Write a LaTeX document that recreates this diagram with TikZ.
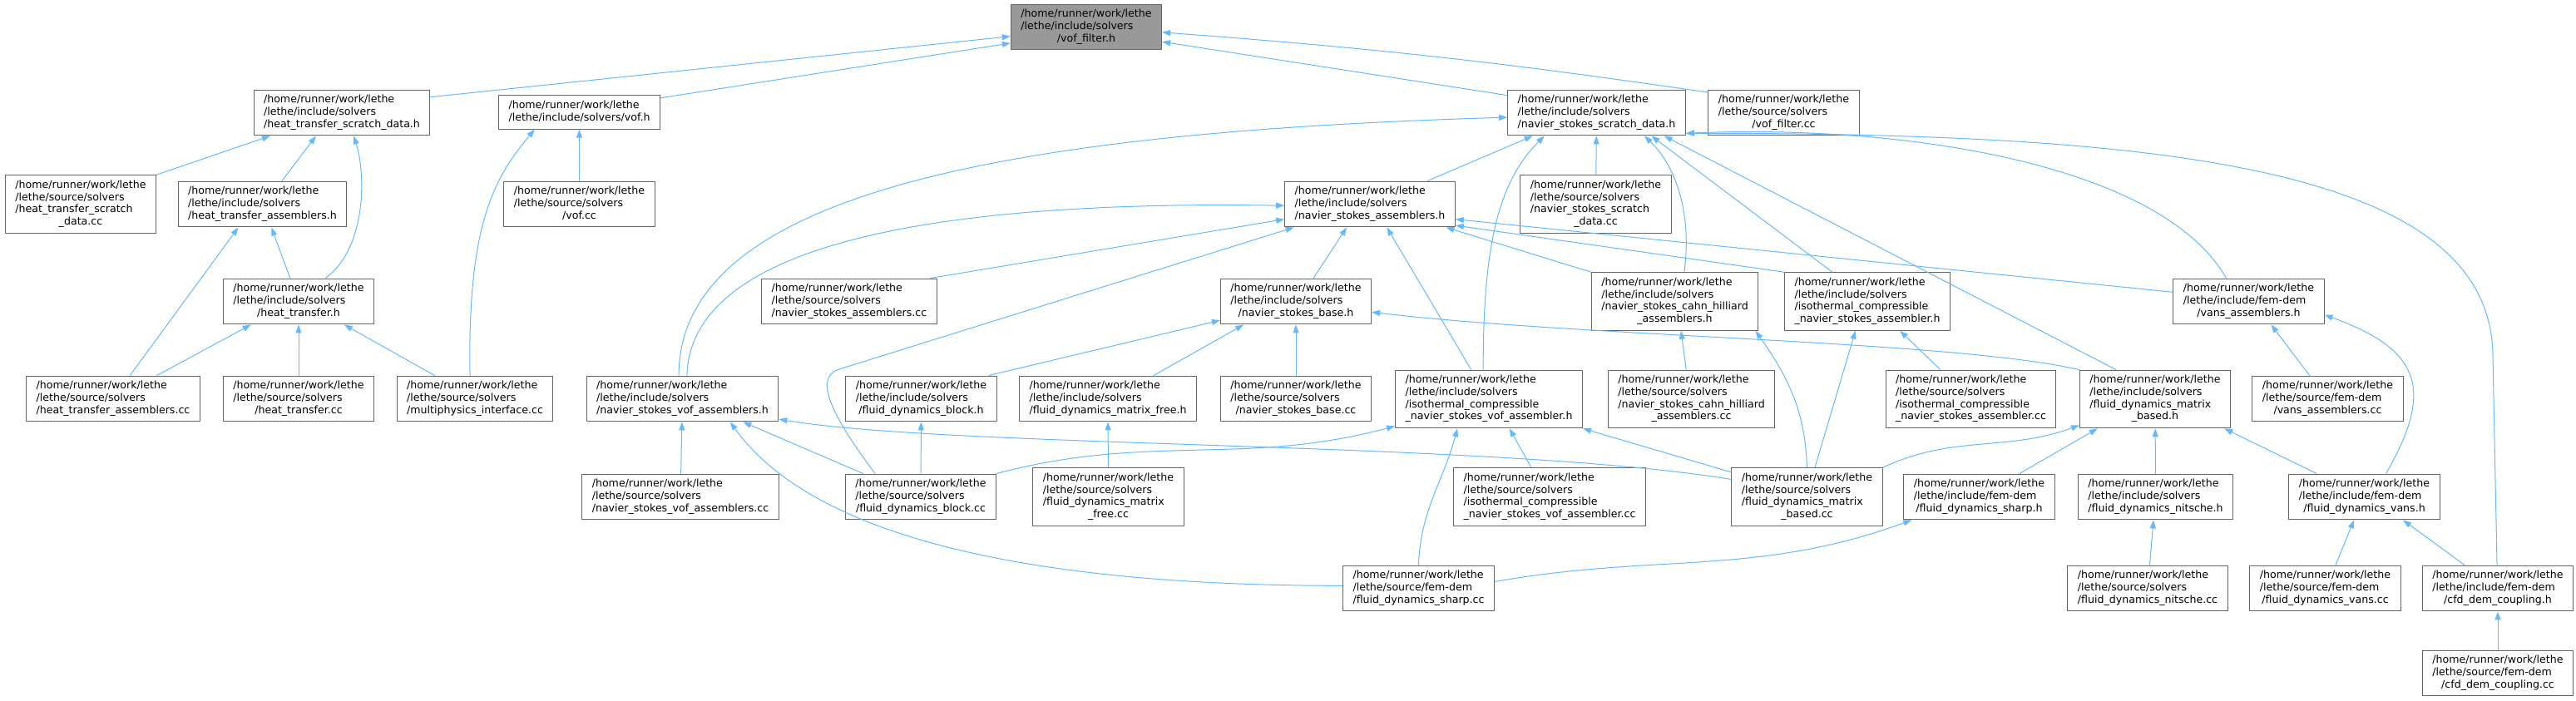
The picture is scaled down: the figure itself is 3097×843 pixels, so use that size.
\documentclass[tikz,border=0pt]{standalone}
\usepackage{fontspec}
\setmainfont{DejaVu Sans}
\usetikzlibrary{arrows.meta}
\definecolor{depblue}{HTML}{63B8FF}
\definecolor{framegray}{HTML}{666666}
\definecolor{rootgray}{HTML}{999999}
% file label: upper lines flush left, last line centred
\newcommand{\fpath}[2]{\begin{tabular}{@{}l@{}}#1\\\multicolumn{1}{@{}c@{}}{#2}\end{tabular}}
\newcommand{\lethehome}{/home/runner/work/lethe}
\begin{document}
\begin{tikzpicture}[x=1pt,y=1pt,
  every node/.style={font=\fontsize{12.6}{14.7}\selectfont},
  file/.style={draw=framegray,line width=1pt,fill=white,inner xsep=12pt,inner ysep=5.4pt},
  root/.style={file,fill=rootgray},
  dep/.style={draw=depblue,line width=1pt,-{Triangle[length=10pt,width=7pt]}}]
\useasboundingbox (0,0) rectangle (3097,-843);
% root
\node[root] (filt) at (1306,-32.5) {\fpath{\lethehome\\/lethe/include/solvers}{/vof\_filter.h}};
% row 1
\node[file] (htsd) at (411,-135.5) {\fpath{\lethehome\\/lethe/include/solvers}{/heat\_transfer\_scratch\_data.h}};
\node[file] (vofh) at (696.5,-135) {\fpath{\lethehome}{/lethe/include/solvers/vof.h}};
\node[file] (nssd) at (1919.5,-135.5) {\fpath{\lethehome\\/lethe/include/solvers}{/navier\_stokes\_scratch\_data.h}};
\node[file] (filtcc) at (2144.5,-135.5) {\fpath{\lethehome\\/lethe/source/solvers}{/vof\_filter.cc}};
% row 2
\node[file] (htsdcc) at (97,-245.5) {\fpath{\lethehome\\/lethe/source/solvers\\/heat\_transfer\_scratch}{\_data.cc}};
\node[file] (htah) at (315.5,-245.5) {\fpath{\lethehome\\/lethe/include/solvers}{/heat\_transfer\_assemblers.h}};
\node[file] (vofcc) at (696.5,-245.5) {\fpath{\lethehome\\/lethe/source/solvers}{/vof.cc}};
\node[file] (nsah) at (1647,-245.5) {\fpath{\lethehome\\/lethe/include/solvers}{/navier\_stokes\_assemblers.h}};
\node[file] (nssdcc) at (1918.5,-245.5) {\fpath{\lethehome\\/lethe/source/solvers\\/navier\_stokes\_scratch}{\_data.cc}};
% row 3
\node[file] (hth) at (359,-362.5) {\fpath{\lethehome\\/lethe/include/solvers}{/heat\_transfer.h}};
\node[file] (nsacc) at (1021,-362.5) {\fpath{\lethehome\\/lethe/source/solvers}{/navier\_stokes\_assemblers.cc}};
\node[file] (nsbh) at (1558,-362.5) {\fpath{\lethehome\\/lethe/include/solvers}{/navier\_stokes\_base.h}};
\node[file] (chah) at (2013.5,-362.5) {\fpath{\lethehome\\/lethe/include/solvers\\/navier\_stokes\_cahn\_hilliard}{\_assemblers.h}};
\node[file] (icah) at (2245,-362.5) {\fpath{\lethehome\\/lethe/include/solvers\\/isothermal\_compressible}{\_navier\_stokes\_assembler.h}};
\node[file] (vah) at (2703.5,-362.5) {\fpath{\lethehome\\/lethe/include/fem-dem}{/vans\_assemblers.h}};
% row 4
\node[file] (htacc) at (136,-479.5) {\fpath{\lethehome\\/lethe/source/solvers}{/heat\_transfer\_assemblers.cc}};
\node[file] (htcc) at (359,-479.5) {\fpath{\lethehome\\/lethe/source/solvers}{/heat\_transfer.cc}};
\node[file] (mpicc) at (571,-479.5) {\fpath{\lethehome\\/lethe/source/solvers}{/multiphysics\_interface.cc}};
\node[file] (nsvah) at (820.5,-479.5) {\fpath{\lethehome\\/lethe/include/solvers}{/navier\_stokes\_vof\_assemblers.h}};
\node[file] (fdbh) at (1107.5,-479.5) {\fpath{\lethehome\\/lethe/include/solvers}{/fluid\_dynamics\_block.h}};
\node[file] (fdmfh) at (1332,-479.5) {\fpath{\lethehome\\/lethe/include/solvers}{/fluid\_dynamics\_matrix\_free.h}};
\node[file] (nsbcc) at (1558,-479.5) {\fpath{\lethehome\\/lethe/source/solvers}{/navier\_stokes\_base.cc}};
\node[file] (icvah) at (1790,-480) {\fpath{\lethehome\\/lethe/include/solvers\\/isothermal\_compressible}{\_navier\_stokes\_vof\_assembler.h}};
\node[file] (chacc) at (2033.5,-480) {\fpath{\lethehome\\/lethe/source/solvers\\/navier\_stokes\_cahn\_hilliard}{\_assemblers.cc}};
\node[file] (icacc) at (2369.5,-480) {\fpath{\lethehome\\/lethe/source/solvers\\/isothermal\_compressible}{\_navier\_stokes\_assembler.cc}};
\node[file] (fdmbh) at (2591,-480) {\fpath{\lethehome\\/lethe/include/solvers\\/fluid\_dynamics\_matrix}{\_based.h}};
\node[file] (vacc) at (2798.5,-479.5) {\fpath{\lethehome\\/lethe/source/fem-dem}{/vans\_assemblers.cc}};
% row 5
\node[file] (nsvacc) at (818,-597.5) {\fpath{\lethehome\\/lethe/source/solvers}{/navier\_stokes\_vof\_assemblers.cc}};
\node[file] (fdbcc) at (1107,-597.5) {\fpath{\lethehome\\/lethe/source/solvers}{/fluid\_dynamics\_block.cc}};
\node[file] (fdmfcc) at (1332.5,-597.5) {\fpath{\lethehome\\/lethe/source/solvers\\/fluid\_dynamics\_matrix}{\_free.cc}};
\node[file] (icvacc) at (1863,-597.5) {\fpath{\lethehome\\/lethe/source/solvers\\/isothermal\_compressible}{\_navier\_stokes\_vof\_assembler.cc}};
\node[file] (fdmbcc) at (2172.5,-597.5) {\fpath{\lethehome\\/lethe/source/solvers\\/fluid\_dynamics\_matrix}{\_based.cc}};
\node[file] (fdsh) at (2379.5,-597.5) {\fpath{\lethehome\\/lethe/include/fem-dem}{/fluid\_dynamics\_sharp.h}};
\node[file] (fdnh) at (2591.5,-597.5) {\fpath{\lethehome\\/lethe/include/solvers}{/fluid\_dynamics\_nitsche.h}};
\node[file] (fdvh) at (2842.5,-597.5) {\fpath{\lethehome\\/lethe/include/fem-dem}{/fluid\_dynamics\_vans.h}};
% row 6
\node[file] (fdscc) at (1705.5,-707.5) {\fpath{\lethehome\\/lethe/source/fem-dem}{/fluid\_dynamics\_sharp.cc}};
\node[file] (fdncc) at (2582,-707.5) {\fpath{\lethehome\\/lethe/source/solvers}{/fluid\_dynamics\_nitsche.cc}};
\node[file] (fdvcc) at (2795.5,-707.5) {\fpath{\lethehome\\/lethe/source/fem-dem}{/fluid\_dynamics\_vans.cc}};
\node[file] (cdch) at (3003,-707.5) {\fpath{\lethehome\\/lethe/include/fem-dem}{/cfd\_dem\_coupling.h}};
% row 7
\node[file] (cdccc) at (3003,-809.5) {\fpath{\lethehome\\/lethe/source/fem-dem}{/cfd\_dem\_coupling.cc}};
% includes of vof_filter.h
\draw[dep] (htsd.10) -- (filt.187);
\draw[dep] (vofh.10) -- (filt.192);
\draw[dep] (nssd.169) -- (filt.349);
\draw[dep] (filtcc.165) to[bend right=2] (filt.356);
% heat transfer side
\draw[dep] (htsdcc.north east) -- (htsd.198);
\draw[dep] (htah.50) -- (htsd.222);
\draw[dep] (hth.41) .. controls +(49,35) and +(15,-47) .. (htsd.297);
\draw[dep] (vofcc) -- (vofh);
\draw[dep] (mpicc.102) .. controls +(-3,180) and +(-50,-60) .. (vofh.201);
\draw[dep] (htacc.54) -- (htah.224);
\draw[dep] (hth.110) -- (htah.291);
\draw[dep] (htacc.28) -- (hth.206);
\draw[dep] (htcc) -- (hth);
\draw[dep] (mpicc.150) -- (hth.333);
% includes of navier_stokes_scratch_data.h
\draw[dep] (nsvah.99) .. controls +(0,217) and +(-610,-18) .. (nssd.183);
\draw[dep] (nsah.22) -- (nssd.200);
\draw[dep] (icvah.101) .. controls +(0,145) and +(-57,-57) .. (nssd.204);
\draw[dep] (nssdcc) -- (nssd);
\draw[dep] (chah.72) .. controls +(10,78) and +(34,-32) .. (nssd.334);
\draw[dep] (icah.140) -- (nssd.337);
\draw[dep] (fdmbh.143) -- (nssd.341);
\draw[dep] (vah.134) .. controls +(-77,135) and +(271,11) .. (nssd.347);
\draw[dep] (cdch.92) -- ++(-5,250) .. controls +(0,230) and +(570,0) .. (nssd.347);
% includes of navier_stokes_assemblers.h
\draw[dep] (nsvah.79) .. controls +(4,152) and +(-442,7) .. (nsah.181);
\draw[dep] (nsacc.16) -- (nsah.190);
\draw[dep] (fdbcc.153) .. controls +(-60,80) and +(-25,-10) .. +(-45,125) -- (nsah.197);
\draw[dep] (nsbh.53) -- (nsah.225);
\draw[dep] (icvah.121) -- (nsah.306);
\draw[dep] (chah.north west) -- (nsah.343);
\draw[dep] (icah.north west) -- (nsah.346);
\draw[dep] (vah.173) -- (nsah.350);
% includes of navier_stokes_base.h
\draw[dep] (fdbh.19) -- (nsbh.194);
\draw[dep] (fdmfh.27) -- (nsbh.204);
\draw[dep] (nsbcc) -- (nsbh);
\draw[dep] (fdmbh.north west) .. controls +(-149,35) and +(251,-30) .. (nsbh.352);
% vof assemblers
\draw[dep] (icvacc.122) -- (icvah.305);
\draw[dep] (fdscc.north) to[out=88,in=-105] (icvah.223);
\draw[dep] (fdbcc.north east) to[out=15,in=195] (icvah.196);
\draw[dep] (fdmbcc.162) -- (icvah.south east);
\draw[dep] (nsvacc) -- (nsvah);
\draw[dep] (fdbcc.158) -- (nsvah.339);
\draw[dep] (fdscc.178) .. controls +(-363,0) and +(103,-143) .. (nsvah.334);
\draw[dep] (fdmbcc.167) .. controls +(-281,46) and +(210,-35) .. (nsvah.348);
% remaining solver files
\draw[dep] (fdbcc) -- (fdbh);
\draw[dep] (fdmfcc) -- (fdmfh);
\draw[dep] (chacc.100) -- (chah.282);
\draw[dep] (fdmbcc.north) to[out=92,in=-55] (chah.340);
\draw[dep] (icacc.136) -- (icah.318);
\draw[dep] (fdmbcc.75) -- (icah.248);
\draw[dep] (vacc.128) -- (vah.314);
\draw[dep] (fdvh.47) to[out=60,in=-20,looseness=1.5] (vah.350);
\draw[dep] (fdmbcc.north east) to[out=25,in=200] (fdmbh.199);
\draw[dep] (fdsh.30) -- (fdmbh.207);
\draw[dep] (fdnh) -- (fdmbh);
\draw[dep] (fdvh.154) -- (fdmbh.337);
\draw[dep] (fdscc.5) to[out=10,in=200] (fdsh.199);
\draw[dep] (fdncc) -- (fdnh);
\draw[dep] (fdvcc.66) -- (fdvh.246);
\draw[dep] (cdch.145) -- (fdvh.329);
\draw[dep] (cdccc) -- (cdch);
\end{tikzpicture}
\end{document}
